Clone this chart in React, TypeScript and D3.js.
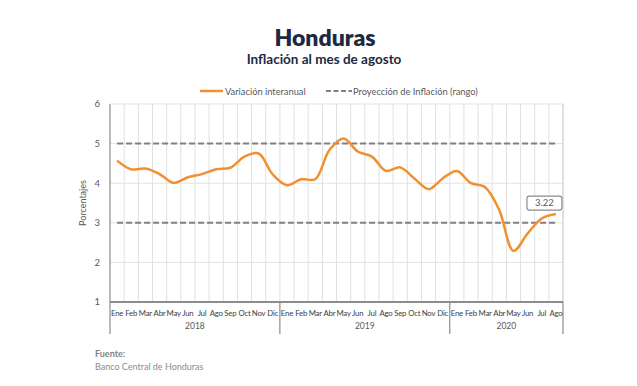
import React from "react";
import * as d3 from "d3";

const WIDTH = 637;
const HEIGHT = 386;

const YEARS = ["2018", "2019", "2020"];
const MONTHS = ["Ene", "Feb", "Mar", "Abr", "May", "Jun", "Jul", "Ago", "Sep", "Oct", "Nov", "Dic"];
const MONTHS_PER_YEAR = [12, 12, 8];

// variación interanual, ene 2018 - ago 2020
const INFLATION = [
  4.57, 4.35, 4.37, 4.23, 4.01, 4.15, 4.23, 4.35, 4.39, 4.67, 4.75, 4.22,
  3.95, 4.1, 4.1, 4.84, 5.13, 4.8, 4.67, 4.31, 4.4, 4.12, 3.85, 4.12,
  4.31, 4.0, 3.9, 3.32, 2.29, 2.73, 3.11, 3.22,
];
const RANGE_LOW = 3;
const RANGE_HIGH = 5;
const Y_TICKS = [1, 2, 3, 4, 5, 6];

const ORANGE = "#f0902f";
const NAVY = "#1d2940";
const FONT = "Lato, 'Open Sans', sans-serif";

const margin = { top: 104, right: 74, bottom: 84, left: 110 };

export default function App() {
  const innerW = WIDTH - margin.left - margin.right;
  const innerH = HEIGHT - margin.top - margin.bottom;

  const cats: { key: string; month: string; year: string }[] = [];
  YEARS.forEach((y, yi) => {
    for (let m = 0; m < MONTHS_PER_YEAR[yi]; m++) cats.push({ key: `${y}-${m}`, month: MONTHS[m], year: y });
  });

  const x = d3.scaleBand<string>().domain(cats.map((c) => c.key)).range([0, innerW]).padding(0);
  const y = d3.scaleLinear().domain([1, 6]).range([innerH, 0]);
  const cx = (i: number) => (x(cats[i].key) ?? 0) + x.bandwidth() / 2;

  const line = d3
    .line<number>()
    .x((_, i) => cx(i))
    .y((d) => y(d))
    .curve(d3.curveCatmullRom.alpha(0.5));

  const flat = (v: number) =>
    d3.line<number>().x((_, i) => cx(i)).y(() => y(v))(INFLATION) ?? "";

  const yearStarts: number[] = [];
  let acc = 0;
  MONTHS_PER_YEAR.forEach((n) => {
    yearStarts.push(acc);
    acc += n;
  });

  const last = INFLATION.length - 1;
  const lastX = cx(last);
  const lastY = y(INFLATION[last]);

  return (
    <svg width={WIDTH} height={HEIGHT} style={{ position: "absolute", left: 0, top: 0, background: "#fff" }} fontFamily={FONT}>
      <text x={325} y={46} textAnchor="middle" fontSize={23} fontWeight={800} fill={NAVY}>
        Honduras
      </text>
      <text x={324} y={64} textAnchor="middle" fontSize={13.5} fontWeight={700} fill={NAVY}>
        Inflación al mes de agosto
      </text>

      {/* leyenda */}
      <g fontSize={9.3} fill="#595959">
        <line x1={200} x2={223} y1={91} y2={91} stroke={ORANGE} strokeWidth={2.5} />
        <text x={225} y={94.5}>Variación interanual</text>
        <line x1={326} x2={352} y1={91} y2={91} stroke="#808080" strokeWidth={2} strokeDasharray="5,2.5" />
        <text x={353} y={94.5}>Proyección de Inflación (rango)</text>
      </g>

      <g transform={`translate(${margin.left},${margin.top})`}>
        {Y_TICKS.map((t) => (
          <g key={t}>
            <line x1={0} x2={innerW} y1={y(t)} y2={y(t)} stroke="#e3e3e3" strokeWidth={1} />
            <text x={-10} y={y(t)} dy="0.35em" textAnchor="end" fontSize={9.5} fill="#595959">
              {t}
            </text>
          </g>
        ))}
        {cats.map((c, i) =>
          i === 0 ? null : (
            <line key={c.key} x1={x(c.key)} x2={x(c.key)} y1={0} y2={innerH} stroke="#e0e0e0" strokeWidth={1} />
          )
        )}
        <line x1={innerW} x2={innerW} y1={0} y2={innerH} stroke="#bfbfbf" strokeWidth={1} />

        <path d={flat(RANGE_HIGH)} fill="none" stroke="#808080" strokeWidth={2} strokeDasharray="6,3" />
        <path d={flat(RANGE_LOW)} fill="none" stroke="#808080" strokeWidth={2} strokeDasharray="6,3" />

        <path d={line(INFLATION) ?? ""} fill="none" stroke={ORANGE} strokeWidth={2.5} strokeLinejoin="round" />

        {/* etiqueta del último dato */}
        <rect x={lastX - 29} y={lastY - 18} width={35} height={14} rx={2.5} fill="#fff" stroke="#8c8c8c" strokeWidth={1.2} />
        <text x={lastX - 11.5} y={lastY - 11} dy="0.35em" textAnchor="middle" fontSize={9.5} fill="#595959">
          {INFLATION[last].toFixed(2)}
        </text>

        {/* ejes */}
        <line x1={0} x2={0} y1={0} y2={innerH + 32} stroke="#8c8c8c" strokeWidth={1.2} />
        <line x1={0} x2={innerW} y1={innerH} y2={innerH} stroke="#8c8c8c" strokeWidth={1.8} />
        {yearStarts.map((s, yi) => {
          const x0 = x(cats[s].key) ?? 0;
          const endIdx = s + MONTHS_PER_YEAR[yi];
          const x1 = endIdx < cats.length ? x(cats[endIdx].key) ?? innerW : innerW;
          return (
            <g key={YEARS[yi]}>
              {yi > 0 && <line x1={x0} x2={x0} y1={innerH} y2={innerH + 32} stroke="#8c8c8c" strokeWidth={1.2} />}
              <text x={(x0 + x1) / 2} y={innerH + 27} textAnchor="middle" fontSize={8.5} fill="#595959">
                {YEARS[yi]}
              </text>
            </g>
          );
        })}
        <line x1={innerW} x2={innerW} y1={innerH} y2={innerH + 32} stroke="#8c8c8c" strokeWidth={1.2} />
        {cats.map((c, i) => (
          <text key={c.key} x={cx(i)} y={innerH + 13.5} textAnchor="middle" fontSize={7.8} letterSpacing={-0.2} fill="#404040">
            {c.month}
          </text>
        ))}

        <text transform={`translate(-24,${innerH / 2}) rotate(-90)`} textAnchor="middle" fontSize={9} fill="#595959">
          Porcentajes
        </text>
      </g>

      <text x={95} y={357} fontSize={9} fontWeight={700} fill="#7f7f7f">
        Fuente:
      </text>
      <text x={95} y={370} fontSize={9} fill="#8c8c8c">
        Banco Central de Honduras
      </text>
    </svg>
  );
}
